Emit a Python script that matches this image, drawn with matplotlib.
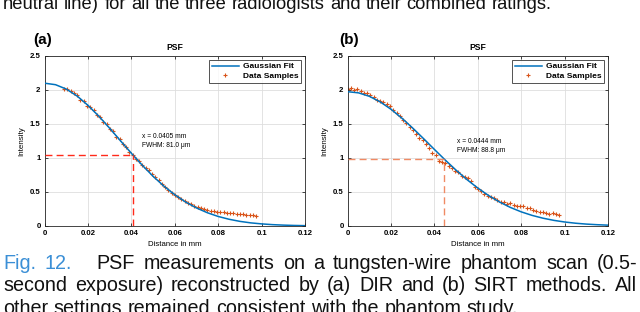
import matplotlib
matplotlib.use('Agg')
import matplotlib.pyplot as plt

plt.rcParams['font.family'] = ['Liberation Sans', 'DejaVu Sans']

# ---------------- data ----------------
fit_x = [0.000, 0.005, 0.010, 0.015, 0.020, 0.025, 0.030, 0.035, 0.040, 0.045,
         0.050, 0.055, 0.060, 0.065, 0.070, 0.075, 0.080, 0.085, 0.090, 0.095,
         0.100, 0.105, 0.110, 0.115, 0.120]
fit_a = [2.100, 2.078, 2.013, 1.910, 1.773, 1.613, 1.436, 1.251, 1.068, 0.893,
         0.730, 0.585, 0.459, 0.352, 0.265, 0.195, 0.140, 0.099, 0.068, 0.046,
         0.031, 0.020, 0.013, 0.008, 0.005]
fit_b = [1.975, 1.958, 1.907, 1.825, 1.716, 1.585, 1.439, 1.284, 1.125, 0.969,
         0.820, 0.682, 0.557, 0.447, 0.353, 0.273, 0.208, 0.156, 0.115, 0.083,
         0.059, 0.041, 0.028, 0.019, 0.0125]

samples_a_x = [0.0090, 0.0105, 0.0120, 0.0135, 0.0150, 0.0165, 0.0180, 0.0195, 0.0210, 0.0225,
               0.0240, 0.0255, 0.0270, 0.0285, 0.0300, 0.0315, 0.0330, 0.0345, 0.0360, 0.0375,
               0.0390, 0.0405, 0.0420, 0.0435, 0.0450, 0.0465, 0.0480, 0.0495, 0.0510, 0.0525,
               0.0540, 0.0555, 0.0570, 0.0585, 0.0600, 0.0615, 0.0630, 0.0645, 0.0660, 0.0675,
               0.0690, 0.0705, 0.0720, 0.0735, 0.0750, 0.0765, 0.0780, 0.0795, 0.0810, 0.0825,
               0.0840, 0.0855, 0.0870, 0.0885, 0.0900, 0.0915, 0.0930, 0.0945, 0.0960, 0.0975]
samples_a_y = [2.02, 2.01, 1.99, 1.95, 1.92, 1.86, 1.84, 1.77, 1.75, 1.70,
               1.63, 1.60, 1.53, 1.50, 1.42, 1.39, 1.31, 1.28, 1.20, 1.16,
               1.09, 1.05, 0.99, 0.95, 0.90, 0.86, 0.82, 0.77, 0.72, 0.67,
               0.62, 0.58, 0.53, 0.49, 0.46, 0.43, 0.40, 0.37, 0.345, 0.32,
               0.30, 0.285, 0.27, 0.255, 0.24, 0.225, 0.215, 0.21, 0.205, 0.20,
               0.195, 0.19, 0.19, 0.18, 0.175, 0.17, 0.165, 0.16, 0.155, 0.15]

samples_b_x = [0.0000, 0.0015, 0.0030, 0.0045, 0.0060, 0.0075, 0.0090, 0.0105, 0.0120, 0.0135,
               0.0150, 0.0165, 0.0180, 0.0195, 0.0210, 0.0225, 0.0240, 0.0255, 0.0270, 0.0285,
               0.0300, 0.0315, 0.0330, 0.0345, 0.0360, 0.0375, 0.0390, 0.0405, 0.0420, 0.0435,
               0.0450, 0.0465, 0.0480, 0.0495, 0.0510, 0.0525, 0.0540, 0.0555, 0.0570, 0.0585,
               0.0600, 0.0615, 0.0630, 0.0645, 0.0660, 0.0675, 0.0690, 0.0705, 0.0720, 0.0735,
               0.0750, 0.0765, 0.0780, 0.0795, 0.0810, 0.0825, 0.0840, 0.0855, 0.0870, 0.0885,
               0.0900, 0.0915, 0.0930, 0.0945, 0.0960, 0.0975]
samples_b_y = [2.02, 2.03, 2.00, 2.01, 1.98, 1.95, 1.95, 1.92, 1.89, 1.86,
               1.84, 1.82, 1.80, 1.76, 1.70, 1.66, 1.62, 1.56, 1.52, 1.46,
               1.41, 1.36, 1.30, 1.26, 1.20, 1.15, 1.08, 1.04, 0.96, 0.94,
               0.92, 0.88, 0.85, 0.81, 0.79, 0.74, 0.72, 0.70, 0.66, 0.58,
               0.55, 0.52, 0.47, 0.44, 0.43, 0.41, 0.38, 0.36, 0.35, 0.33,
               0.34, 0.31, 0.30, 0.29, 0.30, 0.27, 0.26, 0.24, 0.22, 0.21,
               0.20, 0.19, 0.18, 0.19, 0.17, 0.16]

half_a = (0.0405, 1.05)
half_b = (0.0444, 0.98)
notes_a = ['x = 0.0405 mm', 'FWHM: 81.0 \u03bcm']
notes_b = ['x = 0.0444 mm', 'FWHM: 88.8 \u03bcm']
panel_labels = ['(a)', '(b)']
x_ticks = [0, 0.02, 0.04, 0.06, 0.08, 0.1, 0.12]
x_tick_labels = ['0', '0.02', '0.04', '0.06', '0.08', '0.1', '0.12']
y_ticks = [0, 0.5, 1, 1.5, 2, 2.5]
y_tick_labels = ['0', '0.5', '1', '1.5', '2', '2.5']

caption_top = 'neutral line) for all the three radiologists and their combined ratings.'
caption_1 = ['Fig.', '12.', 'PSF', 'measurements', 'on', 'a', 'tungsten-wire', 'phantom', 'scan', '(0.5-']
caption_2 = ['second', 'exposure)', 'reconstructed', 'by', '(a)', 'DIR', 'and', '(b)', 'SIRT', 'methods.', 'All']
caption_3 = 'other settings remained consistent with the phantom study.'

# ---------------- figure ----------------
W, H = 640, 312
fig = plt.figure(figsize=(W / 100, H / 100), dpi=100)

BLUE = '#0072BD'
ORANGE = '#D95319'
TICKFS = 5.6

def make_panel(rect, fit_y, sx, sy, half, notes, note_pos, dash_color, label, label_x):
    ax = fig.add_axes(rect)
    ax.plot(fit_x, fit_y, color=BLUE, lw=1.1, label='Gaussian Fit', zorder=3)
    ax.plot(sx, sy, linestyle='none', marker='+', ms=3.4, mew=0.8, color=ORANGE,
            label='Data Samples', zorder=2)
    ax.plot([0, half[0]], [half[1], half[1]], linestyle=(0, (5, 3)), color=dash_color,
            lw=1.0, zorder=4)
    ax.plot([half[0], half[0]], [0, half[1]], linestyle=(0, (5, 3)), color=dash_color,
            lw=1.0, zorder=4)
    ax.set_xlim(0, 0.12)
    ax.set_ylim(0, 2.5)
    ax.set_xticks(x_ticks)
    ax.set_xticklabels(x_tick_labels)
    ax.set_yticks(y_ticks)
    ax.set_yticklabels(y_tick_labels)
    ax.grid(True, color='#dedede', lw=0.6)
    ax.set_axisbelow(True)
    ax.tick_params(direction='in', length=2.5, width=0.6, top=True, right=True,
                   labelsize=TICKFS, pad=3, colors='#262626')
    for lab in ax.get_xticklabels() + ax.get_yticklabels():
        lab.set_fontweight('bold')
        lab.set_color('black')
    for s in ax.spines.values():
        s.set_linewidth(0.6)
        s.set_color('#262626')
    ax.set_title('PSF', fontsize=6.2, fontweight='bold', pad=4)
    ax.set_xlabel('Distance in mm', fontsize=5.6, labelpad=3)
    ax.set_ylabel('Intensity', fontsize=5.8, labelpad=3)
    ax.text(note_pos[0], note_pos[1], notes[0] + '\n' + notes[1], fontsize=4.8,
            ha='left', va='center', linespacing=1.5)
    leg = ax.legend(loc='upper right', fontsize=6, frameon=True, fancybox=False,
                    edgecolor='#262626', borderpad=0.3, handlelength=3.2,
                    handletextpad=0.5, labelspacing=0.25, borderaxespad=0.5)
    leg.get_frame().set_linewidth(0.7)
    for t in leg.get_texts():
        t.set_fontweight('bold')
    fig.text(label_x / W, 1 - 40 / H, label, fontsize=11, fontweight='bold',
             ha='left', va='center')
    return ax

make_panel([44.7 / W, (H - 226) / H, 260.3 / W, 170 / H], fit_a, samples_a_x, samples_a_y,
           half_a, notes_a, (0.0447, 1.25), '#FF2A1A', panel_labels[0], 33)
make_panel([347.7 / W, (H - 226) / H, 260.3 / W, 170 / H], fit_b, samples_b_x, samples_b_y,
           half_b, notes_b, (0.0502, 1.18), '#F08A64', panel_labels[1], 339)

# ---------------- caption ----------------
renderer = fig.canvas.get_renderer()
X0, X1 = 3.0, 637.0

def put_line(words, colors, baseline_px, fs, justify=True, extra_after=None, extra=0.0):
    ts = [fig.text(0, 1 - baseline_px / H, w, fontsize=fs, color=c, va='baseline', ha='left')
          for w, c in zip(words, colors)]
    widths = [t.get_window_extent(renderer).width for t in ts]
    if justify:
        gap = (X1 - X0 - sum(widths) - extra) / (len(words) - 1)
    else:
        gap = fs * 0.278 * 100 / 72
    x = X0
    for i, (t, w) in enumerate(zip(ts, widths)):
        t.set_x(x / W)
        x += w + gap
        if extra_after is not None and i == extra_after:
            x += extra

top_words = caption_top.split(' ')
put_line(top_words, ['#111111'] * len(top_words), 9, 13.2, justify=False)
put_line(caption_1, ['#3B8FD6', '#3B8FD6'] + ['#111111'] * (len(caption_1) - 2), 269, 14.2,
         extra_after=1, extra=16.0)
put_line(caption_2, ['#111111'] * len(caption_2), 291, 14.2)
bottom_words = caption_3.split(' ')
put_line(bottom_words, ['#111111'] * len(bottom_words), 314, 14.2, justify=False)

fig.savefig('out.png', dpi=100)
